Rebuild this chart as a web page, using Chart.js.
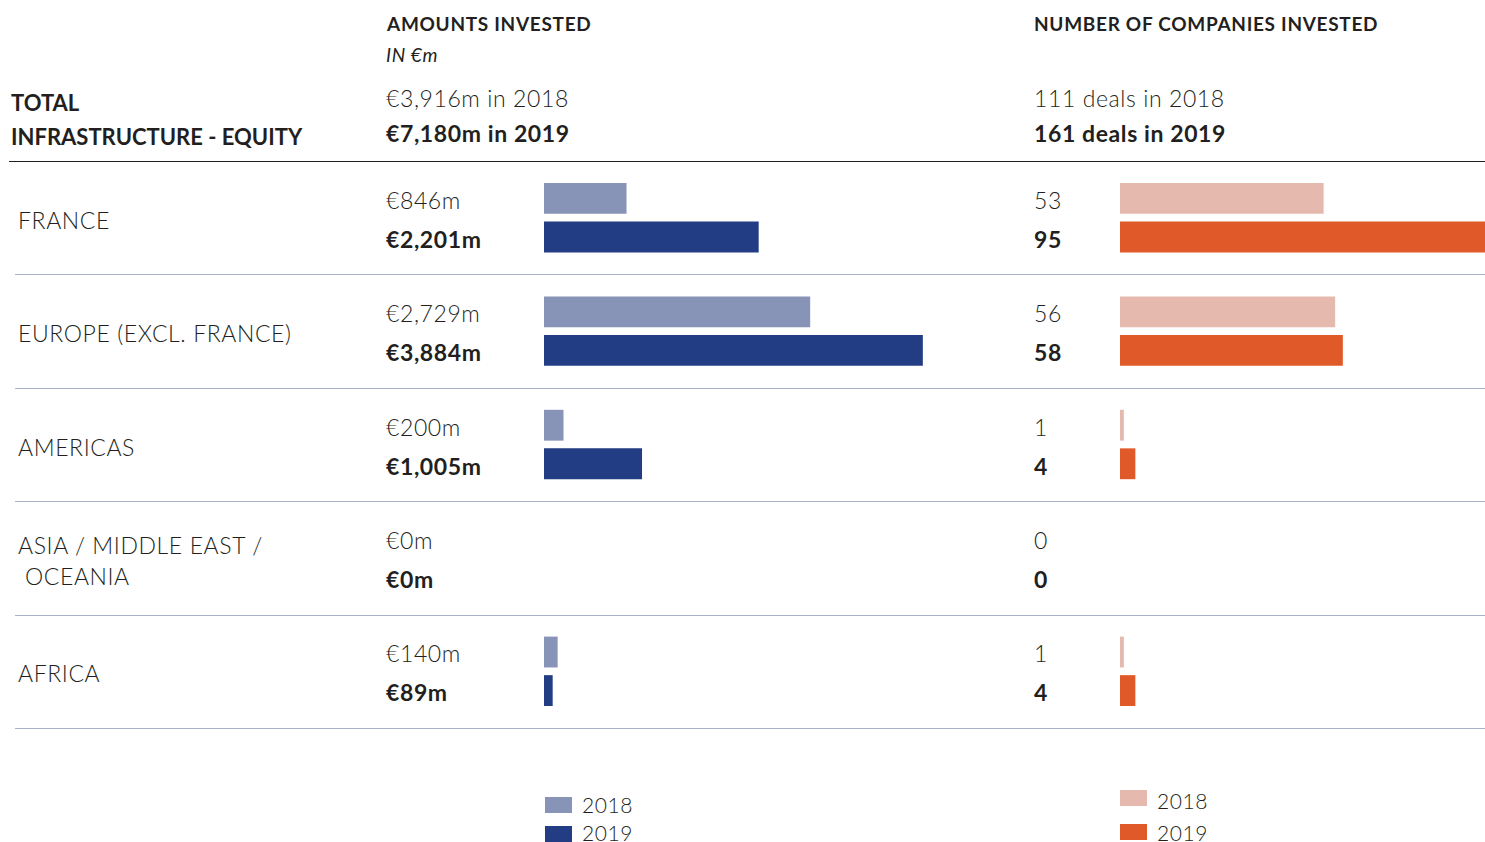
<!DOCTYPE html>
<html>
<head>
<meta charset="utf-8">
<script src="https://cdn.jsdelivr.net/npm/chart.js@4"></script>
<style>
  body { margin: 0; background: #fff; font-family: 'Lato', 'DejaVu Sans', sans-serif; color: #231f20; }
  #page { position: relative; width: 1485px; height: 842px; overflow: hidden; }
  .t { position: absolute; white-space: nowrap; line-height: 1; transform: translateY(-50%); font-weight: 300; letter-spacing: 0.6px; }
  .head { font-weight: 700; font-size: 19px; letter-spacing: 0.7px; }
  .big { font-size: 23px; }
  .b { font-weight: 700; }
  .rule { position: absolute; height: 1px; }
  canvas { position: absolute; }
  .sw { position: absolute; width: 27px; height: 16px; }
</style>
</head>
<body>
<div id="page">
  <div class="t head" style="left:387px;top:23px">AMOUNTS INVESTED</div>
  <div class="t" style="left:386px;top:54px;font-size:19px;font-style:italic;font-weight:400">IN €m</div>
  <div class="t head" style="left:1034px;top:23px">NUMBER OF COMPANIES INVESTED</div>
  <div class="t b" style="left:11px;top:103px;font-size:22px;letter-spacing:0">TOTAL</div>
  <div class="t b" style="left:11px;top:137px;font-size:22px;letter-spacing:0">INFRASTRUCTURE - EQUITY</div>
  <div class="t big" id="tot18" style="left:386px;top:98px"></div>
  <div class="t big b" id="tot19" style="left:386px;top:133px"></div>
  <div class="t big" id="deal18" style="left:1034px;top:98px"></div>
  <div class="t big b" id="deal19" style="left:1034px;top:133px"></div>
  <div class="rule" style="left:9px;top:161px;width:1476px;background:#231f20"></div>
  <canvas id="amountChart" width="456" height="567" style="left:544px;top:161px"></canvas>
  <canvas id="dealChart" width="365" height="567" style="left:1120px;top:161px"></canvas>
  <div class="sw" style="left:545px;top:797px;background:#8794b8"></div>
  <div class="t" style="left:582px;top:804px;font-size:21px">2018</div>
  <div class="sw" style="left:545px;top:826px;background:#223d84"></div>
  <div class="t" style="left:582px;top:832px;font-size:21px">2019</div>
  <div class="sw" style="left:1120px;top:790px;background:#e5b9ad"></div>
  <div class="t" style="left:1157px;top:800px;font-size:21px">2018</div>
  <div class="sw" style="left:1120px;top:824px;background:#e05a29"></div>
  <div class="t" style="left:1157px;top:832px;font-size:21px">2019</div>
</div>
<script>
// Regions (one row each)
const regions = [['FRANCE'], ['EUROPE (EXCL. FRANCE)'], ['AMERICAS'], ['ASIA / MIDDLE EAST /', ' OCEANIA'], ['AFRICA']];

// Amounts invested, in €m
const amounts2018 = [846, 2729, 200, 0, 140];
const amounts2019 = [2201, 3884, 1005, 0, 89];

// Number of companies invested
const deals2018 = [53, 56, 1, 0, 1];
const deals2019 = [95, 58, 4, 0, 4];

const totals = { amount2018: 3916, amount2019: 7180, deals2018: 111, deals2019: 161 };

const top0 = 161, rowH = 113.4;
const page = document.getElementById('page');

function fmt(v) { return v.toLocaleString('en-US'); }

function addText(txt, x, y, size, bold) {
    const d = document.createElement('div');
    d.className = 't' + (bold ? ' b' : '');
    d.style.left = x + 'px';
    d.style.top = y + 'px';
    d.style.fontSize = size + 'px';
    d.textContent = txt;
    page.appendChild(d);
}

document.getElementById('tot18').textContent = '€' + fmt(totals.amount2018) + 'm in 2018';
document.getElementById('tot19').textContent = '€' + fmt(totals.amount2019) + 'm in 2019';
document.getElementById('deal18').textContent = totals.deals2018 + ' deals in 2018';
document.getElementById('deal19').textContent = totals.deals2019 + ' deals in 2019';

regions.forEach((lines, i) => {
    const c = top0 + rowH * (i + 0.5);
    if (lines.length === 1) {
        addText(lines[0], 18, c + 2, 23, false);
    } else {
        addText(lines[0], 18, c - 13, 23, false);
        addText(lines[1].trim(), 25, c + 18, 23, false);
    }
    addText('€' + fmt(amounts2018[i]) + 'm', 386, c - 18, 23, false);
    addText('€' + fmt(amounts2019[i]) + 'm', 386, c + 21, 23, true);
    addText(String(deals2018[i]), 1034, c - 18, 23, false);
    addText(String(deals2019[i]), 1034, c + 21, 23, true);
    const r = document.createElement('div');
    r.className = 'rule';
    r.style.left = '15px';
    r.style.width = '1470px';
    r.style.top = Math.round(top0 + rowH * (i + 1)) + 'px';
    r.style.background = '#a9b3cc';
    page.appendChild(r);
});

function barChart(id, d18, d19, c18, c19, max) {
    new Chart(document.getElementById(id).getContext('2d'), {
        type: 'bar',
        data: {
            labels: regions.map(r => r.join(' ')),
            datasets: [{
                label: '2018',
                data: d18,
                backgroundColor: c18,
                categoryPercentage: 0.68,
                barPercentage: 0.8
            }, {
                label: '2019',
                data: d19,
                backgroundColor: c19,
                categoryPercentage: 0.68,
                barPercentage: 0.8
            }]
        },
        options: {
            indexAxis: 'y',
            responsive: false,
            animation: false,
            layout: { padding: 0 },
            plugins: {
                legend: { display: false },
                tooltip: { enabled: false }
            },
            scales: {
                x: { display: false, min: 0, max: max },
                y: { display: false }
            }
        }
    });
}

barChart('amountChart', amounts2018, amounts2019, '#8794b8', '#223d84', 4675);
barChart('dealChart', deals2018, deals2019, '#e5b9ad', '#e05a29', 95);
</script>
</body>
</html>
